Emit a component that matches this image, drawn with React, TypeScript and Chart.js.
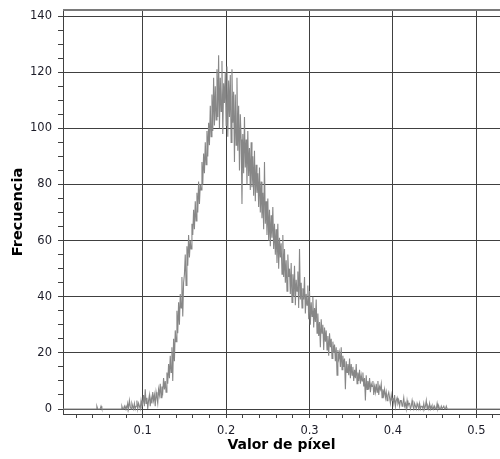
import React, { useEffect, useRef } from "react";
import { Chart, registerables } from "chart.js";

Chart.register(...registerables);

// Histogram bins: start value and width of each bin
const binStart = 0.0;
const binWidth = 0.001;

// Frequency per bin (rows of 10 bins = 0.01 each)
const counts: number[] = [
  0, 0, 0, 0, 0, 0, 0, 0, 0, 0, // 0.00
  0, 0, 0, 0, 0, 0, 0, 0, 0, 0, // 0.01
  0, 0, 0, 0, 0, 0, 0, 0, 0, 0, // 0.02
  0, 0, 0, 0, 0, 0, 0, 0, 0, 0, // 0.03
  0, 0, 0, 0, 0, 1, 0, 0, 0, 0, // 0.04
  1, 0, 0, 0, 0, 0, 0, 0, 0, 0, // 0.05
  0, 0, 0, 0, 0, 0, 0, 0, 0, 0, // 0.06
  0, 0, 0, 0, 0, 1, 0, 0, 1, 0, // 0.07
  1, 0, 2, 0, 3, 1, 0, 2, 1, 0, // 0.08
  2, 0, 1, 3, 0, 2, 1, 0, 3, 1, // 0.09
  2, 5, 1, 7, 2, 4, 0, 3, 5, 1, // 0.10
  4, 2, 6, 3, 5, 1, 6, 4, 2, 7, // 0.11
  5, 9, 4, 8, 6, 11, 7, 10, 6, 13, // 0.12
  9, 16, 11, 19, 13, 22, 10, 25, 17, 28, // 0.13
  24, 35, 27, 38, 30, 41, 36, 47, 33, 45, // 0.14
  48, 55, 44, 58, 51, 62, 54, 60, 57, 66, // 0.15
  62, 71, 64, 74, 67, 77, 70, 81, 73, 80, // 0.16
  78, 88, 80, 91, 84, 95, 87, 99, 90, 102, // 0.17
  94, 108, 97, 112, 99, 118, 101, 115, 103, 121, // 0.18
  104, 126, 100, 118, 106, 124, 98, 116, 109, 120, // 0.19
  101, 122, 97, 117, 104, 119, 95, 121, 102, 113, // 0.20
  88, 112, 94, 118, 92, 108, 85, 105, 96, 73, // 0.21
  98, 84, 104, 86, 96, 80, 99, 83, 93, 78, // 0.22
  95, 79, 90, 76, 92, 74, 87, 77, 84, 72, // 0.23
  86, 70, 81, 68, 77, 64, 88, 66, 74, 62, // 0.24
  75, 60, 71, 58, 69, 61, 72, 57, 66, 55, // 0.25
  64, 52, 66, 50, 61, 54, 59, 48, 62, 47, // 0.26
  57, 45, 53, 42, 55, 47, 50, 41, 52, 38, // 0.27
  48, 40, 51, 37, 46, 42, 49, 36, 57, 39, // 0.28
  45, 36, 43, 39, 47, 34, 41, 37, 44, 32, // 0.29
  42, 30, 38, 33, 40, 29, 36, 31, 39, 27, // 0.30
  34, 26, 31, 22, 32, 27, 30, 21, 29, 24, // 0.31
  28, 21, 26, 19, 27, 22, 25, 18, 24, 20, // 0.32
  23, 17, 22, 12, 21, 18, 20, 15, 22, 14, // 0.33
  19, 15, 18, 7, 17, 13, 16, 12, 18, 11, // 0.34
  16, 12, 15, 10, 14, 11, 16, 9, 13, 10, // 0.35
  14, 9, 12, 10, 13, 8, 11, 3, 12, 7, // 0.36
  10, 7, 11, 6, 9, 8, 10, 5, 8, 6, // 0.37
  9, 6, 10, 5, 8, 7, 9, 4, 7, 5, // 0.38
  7, 4, 6, 3, 5, 6, 4, 2, 5, 3, // 0.39
  4, 2, 5, 1, 3, 4, 2, 3, 1, 3, // 0.40
  3, 1, 2, 4, 1, 2, 0, 3, 1, 2, // 0.41
  2, 0, 1, 3, 1, 0, 2, 1, 0, 2, // 0.42
  1, 0, 2, 0, 1, 1, 0, 2, 0, 1, // 0.43
  3, 0, 1, 0, 2, 0, 1, 0, 1, 0, // 0.44
  1, 0, 0, 2, 0, 1, 0, 0, 1, 0, // 0.45
  0, 1, 0, 0, 1, 0, 0, 0, 0, 0, // 0.46
  0, 0, 0, 0, 0, 0, 0, 0, 0, 0, // 0.47
  0, 0, 0, 0, 0, 0, 0, 0, 0, 0, // 0.48
  0, 0, 0, 0, 0, 0, 0, 0, 0, 0, // 0.49
  0, 0, 0, 0, 0, 0, 0, 0, 0, 0, // 0.50
  0, 0, 0, 0, 0, 0, 0, 0, 0, 0, // 0.51
  0, 0, 0, 0, 0, 0, 0, 0, 0, 0, // 0.52
];

const xTitle = "Valor de píxel";
const yTitle = "Frecuencia";
const xMajorTicks = [0.1, 0.2, 0.3, 0.4, 0.5];
const yMajorTicks = [0, 20, 40, 60, 80, 100, 120, 140];

const FONT = "'DejaVu Sans', Verdana, sans-serif";
const GRID = "#404040";

const isMajorX = (v: number) => xMajorTicks.some((t) => Math.abs(t - v) < 1e-6);
const isMajorY = (v: number) => yMajorTicks.some((t) => Math.abs(t - v) < 1e-6);

const frame = {
  id: "topFrame",
  afterDraw(chart: any) {
    const { ctx, chartArea } = chart;
    ctx.save();
    ctx.strokeStyle = "#7a7a7a";
    ctx.lineWidth = 2;
    ctx.beginPath();
    ctx.moveTo(chartArea.left, chartArea.top);
    ctx.lineTo(chartArea.right, chartArea.top);
    ctx.stroke();
    ctx.restore();
  },
};

export default function App() {
  const ref = useRef<HTMLCanvasElement>(null);
  useEffect(() => {
    document.body.style.margin = "0";
    const points = counts.map((c, i) => ({ x: binStart + i * binWidth, y: c }));
    const chart = new Chart(ref.current!, {
      type: "line",
      data: {
        datasets: [
          {
            data: points,
            borderColor: "#878787",
            borderWidth: 1.1,
            pointRadius: 0,
            tension: 0,
            fill: false,
          },
        ],
      },
      options: {
        animation: false,
        responsive: false,
        devicePixelRatio: 1,
        layout: { autoPadding: false, padding: { top: 10, right: 0, left: 0, bottom: 0 } },
        plugins: { legend: { display: false }, tooltip: { enabled: false } },
        scales: {
          x: {
            type: "linear",
            min: 0.0044,
            max: 0.5284,
            afterFit: (s: any) => {
              s.height = 45;
              s.paddingLeft = 0;
              s.paddingRight = 0;
            },
            border: { display: true, color: GRID, width: 1 },
            grid: {
              color: (c: any) => (c.tick && isMajorX(c.tick.value) ? GRID : "rgba(0,0,0,0)"),
              tickColor: GRID,
              tickLength: 4,
              lineWidth: 1,
            },
            ticks: {
              stepSize: 0.02,
              includeBounds: false,
              autoSkip: false,
              maxRotation: 0,
              padding: 6,
              color: "#1c1c28",
              font: { family: FONT, size: 11.5 },
              callback: (v: any) => (isMajorX(Number(v)) ? Number(v).toFixed(1) : ""),
            },
            title: {
              display: true,
              text: xTitle,
              color: "#000",
              font: { family: FONT, size: 14, weight: "bold" },
              padding: { top: 0, bottom: 5 },
            },
          },
          y: {
            type: "linear",
            min: -1.78,
            max: 142.14,
            afterFit: (s: any) => {
              s.width = 63;
              s.paddingTop = 0;
              s.paddingBottom = 0;
            },
            border: { display: true, color: GRID, width: 1 },
            grid: {
              color: (c: any) => (c.tick && isMajorY(c.tick.value) ? GRID : "rgba(0,0,0,0)"),
              tickColor: GRID,
              tickLength: 5,
              lineWidth: 1,
            },
            ticks: {
              stepSize: 5,
              includeBounds: false,
              autoSkip: false,
              padding: 6,
              color: "#1c1c28",
              font: { family: FONT, size: 11.5 },
              callback: (v: any) => (isMajorY(Number(v)) ? String(Math.round(Number(v))) : ""),
            },
            title: {
              display: true,
              text: yTitle,
              color: "#000",
              font: { family: FONT, size: 14.5, weight: "bold" },
              padding: { top: 10, bottom: 0 },
            },
          },
        },
      },
      plugins: [frame],
    } as any);
    return () => chart.destroy();
  }, []);
  return (
    <div style={{ width: 500, height: 459, background: "#fff" }}>
      <canvas ref={ref} width={500} height={459} style={{ display: "block" }} />
    </div>
  );
}
